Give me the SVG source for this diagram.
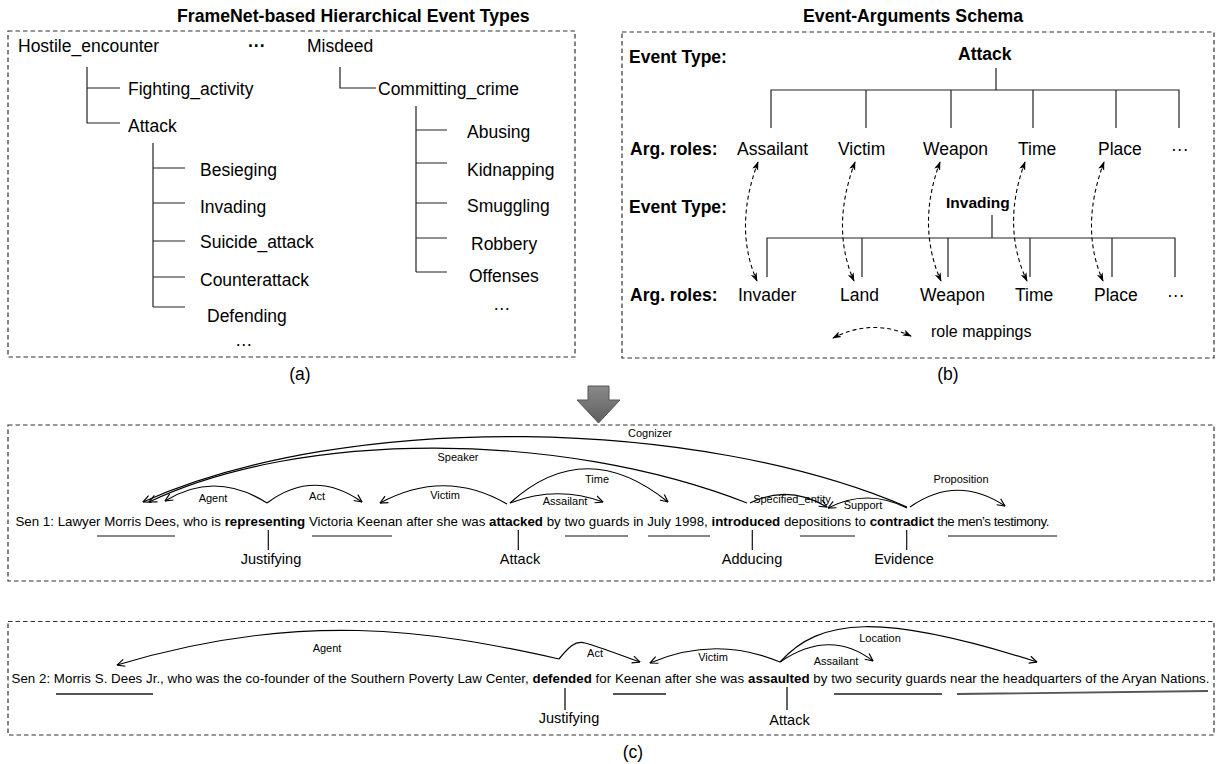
<svg xmlns="http://www.w3.org/2000/svg" width="1217" height="764" viewBox="0 0 1217 764">
<style>
text{font-family:"Liberation Sans",Arial,Helvetica,sans-serif;fill:#000}
.t{font-size:17.5px}
.b{font-weight:bold}
.ttl{font-size:17.7px;font-weight:bold}
.box{fill:none;stroke:#333;stroke-width:1.2;stroke-dasharray:4.5 3}
.ln{fill:none;stroke:#222;stroke-width:1.2}
.dm{fill:none;stroke:#000;stroke-width:1.1;stroke-dasharray:4 3;marker-start:url(#fa);marker-end:url(#fa)}
.arc{fill:none;stroke:#000;stroke-width:1.2;marker-end:url(#oa)}
.sen{font-size:13.3px}
.lab{font-size:11px;text-anchor:middle}
.fr{font-size:14.5px;text-anchor:middle}
.ul{stroke:#111;stroke-width:1.2}
.ul2{stroke:#555;stroke-width:1.8}
</style>
<defs>
<marker id="oa" viewBox="0 0 10 10" refX="9.5" refY="5" markerWidth="9" markerHeight="9" markerUnits="userSpaceOnUse" orient="auto"><path d="M1,1 L9.5,5 L1,9" fill="none" stroke="#000" stroke-width="1.3"/></marker>
<marker id="fa" viewBox="0 0 10 10" refX="9" refY="5" markerWidth="9" markerHeight="9" markerUnits="userSpaceOnUse" orient="auto-start-reverse"><path d="M0,1.5 L10,5 L0,8.5 L2.5,5 z" fill="#000"/></marker>
<linearGradient id="gg" x1="0" y1="0" x2="0" y2="1"><stop offset="0" stop-color="#8a8a8a"/><stop offset="1" stop-color="#5e5e5e"/></linearGradient>
</defs>

<!-- Panel (a) -->
<g id="panel-a">
<text class="ttl" x="177" y="22">FrameNet-based Hierarchical Event Types</text>
<rect class="box" x="8" y="31" width="567" height="326"/>
<text class="t" x="300" y="380" text-anchor="middle">(a)</text>
</g>
<g id="node-hostile"><text class="t" x="18" y="52">Hostile_encounter</text></g>
<g id="node-dots-top"><text class="t b" x="248" y="52">···</text></g>
<g id="node-misdeed"><text class="t" x="307" y="52">Misdeed</text></g>
<g id="node-fighting"><text class="t" x="128" y="95">Fighting_activity</text></g>
<g id="node-attack-a"><text class="t" x="128" y="132">Attack</text></g>
<g id="node-besieging"><text class="t" x="200" y="176">Besieging</text></g>
<g id="node-invading-a"><text class="t" x="200" y="213">Invading</text></g>
<g id="node-suicide"><text class="t" x="200" y="248">Suicide_attack</text></g>
<g id="node-counter"><text class="t" x="200" y="286">Counterattack</text></g>
<g id="node-defending"><text class="t" x="207" y="322">Defending</text></g>
<g id="node-dots-left"><text class="t" x="235" y="346">…</text></g>
<g id="node-committing"><text class="t" x="378" y="95">Committing_crime</text></g>
<g id="node-abusing"><text class="t" x="467" y="138">Abusing</text></g>
<g id="node-kidnapping"><text class="t" x="467" y="176">Kidnapping</text></g>
<g id="node-smuggling"><text class="t" x="467" y="212">Smuggling</text></g>
<g id="node-robbery"><text class="t" x="471" y="250">Robbery</text></g>
<g id="node-offenses"><text class="t" x="469" y="282">Offenses</text></g>
<g id="node-dots-right"><text class="t" x="493" y="310">…</text></g>

<!-- Panel (b) -->
<g id="panel-b">
<text class="ttl" x="803" y="22">Event-Arguments Schema</text>
<rect class="box" x="622" y="32" width="592" height="326"/>
<text class="t" x="948" y="380" text-anchor="middle">(b)</text>
<text class="t b" x="629" y="63">Event Type:</text>
<text class="t b" x="630" y="155">Arg. roles:</text>
<text class="t b" x="629" y="213">Event Type:</text>
<text class="t b" x="630" y="301">Arg. roles:</text>
</g>
<g id="node-attack-b"><text class="t b" x="958" y="60">Attack</text></g>
<g id="node-assailant"><text class="t" x="737" y="155">Assailant</text></g>
<g id="node-victim"><text class="t" x="838" y="155">Victim</text></g>
<g id="node-weapon1"><text class="t" x="923" y="155">Weapon</text></g>
<g id="node-time1"><text class="t" x="1018" y="155">Time</text></g>
<g id="node-place1"><text class="t" x="1098" y="155">Place</text></g>
<g id="node-more1"><text class="t" x="1171" y="155">···</text></g>
<g id="node-invading-b"><text class="b" x="946" y="208" style="font-size:15.5px">Invading</text></g>
<g id="node-invader"><text class="t" x="738" y="301">Invader</text></g>
<g id="node-land"><text class="t" x="840" y="301">Land</text></g>
<g id="node-weapon2"><text class="t" x="920" y="301">Weapon</text></g>
<g id="node-time2"><text class="t" x="1015" y="301">Time</text></g>
<g id="node-place2"><text class="t" x="1094" y="301">Place</text></g>
<g id="node-more2"><text class="t" x="1167" y="301">···</text></g>
<g id="legend-b"><path class="dm" d="M833,338 Q872,318 911,336"/><text x="931" y="337" style="font-size:16px">role mappings</text></g>

<!-- Panel (c) -->
<g id="panel-c">
<rect class="box" x="8" y="425" width="1206" height="156"/>
<rect class="box" x="8" y="621.5" width="1206" height="113.5"/>
<text class="t" x="633" y="758" text-anchor="middle">(c)</text>
<path d="M588,386 H609 V400 H620 L598.5,423 L577,400 H588 Z" fill="url(#gg)" stroke="#555" stroke-width="1"/>
</g>
<g id="sen1"><text class="sen" x="15.5" y="526">Sen 1: Lawyer Morris Dees, who is <tspan class="b">representing</tspan> Victoria Keenan after she was <tspan class="b">attacked</tspan> by two guards in July 1998, <tspan class="b">introduced</tspan> depositions to <tspan class="b">contradict</tspan><tspan letter-spacing="-0.45"> the men’s testimony.</tspan></text></g>
<g id="sen2"><text class="sen" x="11.5" y="683" textLength="1198" lengthAdjust="spacing">Sen 2: Morris S. Dees Jr., who was the co-founder of the Southern Poverty Law Center, <tspan class="b">defended</tspan> for Keenan after she was <tspan class="b">assaulted</tspan> by two security guards near the headquarters of the Aryan Nations.</text></g>
<g id="frame-justifying1"><text class="fr" x="271" y="564">Justifying</text></g>
<g id="frame-attack1"><text class="fr" x="520" y="564">Attack</text></g>
<g id="frame-adducing"><text class="fr" x="752" y="564">Adducing</text></g>
<g id="frame-evidence"><text class="fr" x="904" y="564">Evidence</text></g>
<g id="frame-justifying2"><text class="fr" x="569" y="723">Justifying</text></g>
<g id="frame-attack2"><text class="fr" x="789.5" y="725">Attack</text></g>

<!-- Connectors -->
<g id="connectors">
<!-- tree (a) -->
<path class="ln" d="M87,67 V123 H120 M87,88 H120"/>
<path class="ln" d="M153,143 V307 M153,168 H185 M153,203 H185 M153,241 H185 M153,277 H185 M153,307 H185"/>
<path class="ln" d="M340,67 V88 H376"/>
<path class="ln" d="M416,106 V272 M416,130 H447 M416,163 H447 M416,203 H447 M416,238 H447 M416,272 H447"/>
<!-- tree (b) -->
<path class="ln" d="M996,68 V90 M771,128 V90 H1179 V128 M866,90 V128 M951,90 V128 M1033,90 V128 M1116,90 V128"/>
<path class="ln" d="M992,215 V238 M767,277 V238 H1175 V277 M862,238 V277 M948,238 V277 M1030,238 V277 M1112,238 V277"/>
<!-- role mappings -->
<path class="dm" d="M758,162 C742,205 741,245 757,281"/>
<path class="dm" d="M855,162 C839,205 838,245 854,281"/>
<path class="dm" d="M940,162 C924,205 925,245 941,281"/>
<path class="dm" d="M1025,162 C1009,205 1010,245 1027,281"/>
<path class="dm" d="M1104,162 C1088,205 1087,245 1103,281"/>
<!-- sen 1 underlines & ticks -->
<path class="ul" d="M97,536 H175 M312,536 H392 M565,536 H628 M648,536 H710 M800,536 H855 M948,536 H1057"/>
<path class="ul" d="M268.3,530 V550 M518.3,530 V550 M752.3,530 V550 M906.7,530 V550"/>
<!-- sen 1 arcs -->
<path class="arc" d="M907,507 C700,418 350,410 143,502"/>
<path class="arc" d="M747,503 C560,430 300,430 149,502"/>
<path class="arc" d="M267,503 Q215,470 165,501"/>
<path class="arc" d="M267,503 Q314,468 362,502"/>
<path class="arc" d="M507,504 Q445,468 380,503"/>
<path class="arc" d="M510,503 Q557,485 603,502"/>
<path class="arc" d="M510,503 Q585,435 668,502"/>
<path class="arc" d="M750,503 Q788,484 827,507"/>
<path class="arc" d="M907,508 Q867,488 828,508"/>
<path class="arc" d="M910,507 Q957,474 1005,506"/>
<!-- sen 2 underlines & ticks -->
<path class="ul2" d="M56,694 H153 M613,694 H666 M834,694 H942 M957,694 L1208,691"/>
<path class="ul2" d="M565,688 V710 M787,687 V710"/>
<!-- sen 2 arcs -->
<path class="arc" d="M559,659 C430,630 300,610 117,665"/>
<path class="arc" d="M559,659 C568,648 575,640 585,643 C600,647 620,655 640,662"/>
<path class="arc" d="M780,662 Q715,635 650,663"/>
<path class="arc" d="M780,662 Q830,628 873,661"/>
<path class="arc" d="M780,662 C820,618 880,612 1037,662"/>
</g>
<g id="arc-labels">
<text class="lab" x="650" y="437">Cognizer</text>
<text class="lab" x="458" y="461">Speaker</text>
<text class="lab" x="213" y="502">Agent</text>
<text class="lab" x="317" y="500">Act</text>
<text class="lab" x="445" y="499">Victim</text>
<text class="lab" x="565" y="505">Assailant</text>
<text class="lab" x="597" y="483">Time</text>
<text class="lab" x="792" y="503">Specified_entity</text>
<text class="lab" x="863" y="509">Support</text>
<text class="lab" x="961" y="483">Proposition</text>
<text class="lab" x="327" y="652">Agent</text>
<text class="lab" x="595" y="657">Act</text>
<text class="lab" x="713" y="661">Victim</text>
<text class="lab" x="836" y="665">Assailant</text>
<text class="lab" x="880" y="642">Location</text>
</g>
</svg>
